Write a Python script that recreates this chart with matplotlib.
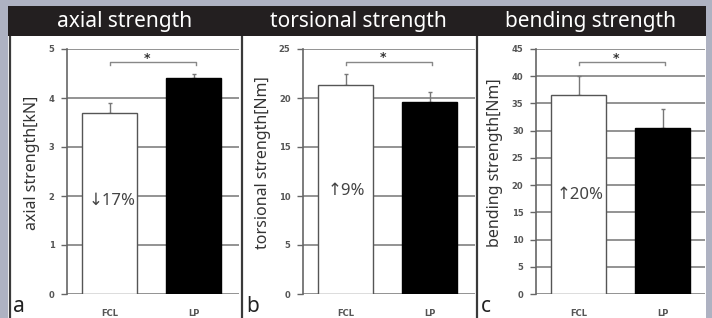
import matplotlib
matplotlib.use('Agg')
import matplotlib.pyplot as plt
from matplotlib.patches import Rectangle
from matplotlib.lines import Line2D

plt.rcParams['font.family'] = ['Noto Sans', 'DejaVu Sans']

groups = ['FCL', 'LP']
titles = ['axial strength', 'torsional strength', 'bending strength']
ylabels = ['axial strength[kN]', 'torsional strength[Nm]', 'bending strength[Nm]']
letters = ['a', 'b', 'c']
notes = ['\u219317%', '\u21919%', '\u219120%']

axial = [3.7, 4.4]
axial_err = [0.2, 0.1]
torsional = [21.3, 19.6]
torsional_err = [1.1, 1.0]
bending = [36.5, 30.5]
bending_err = [3.5, 3.5]

ymax = [5, 25, 45]
ystep = [1, 5, 5]
sig_y = [4.73, 23.7, 42.6]

W, H = 712, 318
fig = plt.figure(figsize=(W / 100, H / 100), dpi=100, facecolor='#aeb2c2')


def fx(x):
    return x / W


def fy(y):
    return 1 - y / H


# white area and black header
fig.patches.append(Rectangle((fx(8), 0), fx(706) - fx(8), fy(36), transform=fig.transFigure,
                             facecolor='white', edgecolor='none', zorder=-2))
fig.patches.append(Rectangle((fx(8), fy(36)), fx(706) - fx(8), fy(6) - fy(36), transform=fig.transFigure,
                             facecolor='#231f20', edgecolor='none', zorder=-1))
for xl in [9.5, 241.5, 476.5]:
    fig.lines.append(Line2D([fx(xl), fx(xl)], [0, fy(36)], transform=fig.transFigure,
                            color='#3a3a3a', lw=1.6, zorder=-1))

panels = [(8, 241, 67), (241, 476, 303), (476, 706, 536)]
data = [(axial, axial_err), (torsional, torsional_err), (bending, bending_err)]
note_y = [201, 191, 195]
unit = 84.0  # pixels per category
left_pad = 0.51

for i, (pl, pr, axx) in enumerate(panels):
    vals, errs = data[i]
    ax = fig.add_axes([fx(axx), fy(294), fx(pr - 1.5) - fx(axx), fy(49) - fy(294)])
    ax.set_zorder(3)
    ax.set_facecolor('none')
    ax.set_xlim(-left_pad, -left_pad + (pr - 1.5 - axx) / unit)
    ax.set_ylim(0, ymax[i])
    for s in ['top', 'right', 'bottom']:
        ax.spines[s].set_visible(False)
    ax.spines['left'].set_color('#666666')
    ax.spines['left'].set_linewidth(1.2)
    ticks = list(range(0, ymax[i] + 1, ystep[i]))
    ax.set_yticks(ticks)
    ax.set_yticklabels([str(t) for t in ticks], fontsize=6, fontweight='bold',
                       color='#555555', family='DejaVu Sans')
    ax.tick_params(axis='y', length=4, width=1, color='#666666', pad=5)
    for t in ticks:
        ax.axhline(t, color='#808080', lw=1.2, zorder=0.5)
    ax.set_xticks([0, 1])
    ax.set_xticklabels(groups, fontsize=6, fontweight='bold', color='#555555', family='DejaVu Sans')
    ax.tick_params(axis='x', length=0, pad=11)
    ax.bar([0, 1], vals, width=0.655, color=['white', 'black'], edgecolor=['#555555', 'black'],
           linewidth=1, zorder=2)
    ax.errorbar([0, 1], vals, yerr=[[0, 0], errs], fmt='none', ecolor='#777777', elinewidth=1,
                capsize=1.5, capthick=1, zorder=1)
    # significance bracket
    tk = ymax[i] * 0.012
    ax.plot([0, 0, 1.02, 1.02], [sig_y[i] - tk, sig_y[i], sig_y[i], sig_y[i] - tk],
            color='#888888', lw=1, zorder=3)
    ax.text(0.44, sig_y[i] - ymax[i] * 0.01, '*', ha='center', va='bottom', fontsize=9,
            fontweight='bold', color='#333333', family='DejaVu Sans')
    # header, labels
    fig.text(fx((pl + pr) / 2), fy(21), titles[i], ha='center', va='center', color='white',
             fontsize=15)
    fig.text(fx([32, 263, 495][i]), fy(163), ylabels[i], rotation=90, ha='center', va='center',
             color='#333333', fontsize=11.5)
    fig.text(fx([112, 346, 580][i]), fy(note_y[i]), notes[i], ha='center', va='center',
             color='#444444', fontsize=12)
    fig.text(fx([13, 246, 481][i]), fy(306), letters[i], ha='left', va='center',
             color='#222222', fontsize=15, fontweight='bold')

fig.savefig('out.png', dpi=100, facecolor=fig.get_facecolor())
